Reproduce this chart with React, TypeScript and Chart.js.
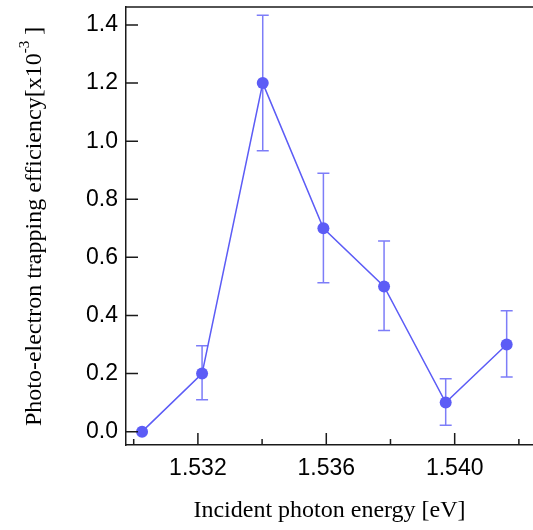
import React, { useEffect, useRef } from 'react';
import { Chart, registerables } from 'chart.js';

Chart.register(...registerables);

// ---- data ----
const energies = [1.53026, 1.53213, 1.53402, 1.53591, 1.5378, 1.53972, 1.54162];
const efficiency = [0.0, 0.2, 1.2, 0.7, 0.5, 0.1, 0.3];
const errLow: (number | null)[] = [null, 0.11, 0.967, 0.513, 0.348, 0.022, 0.188];
const errHigh: (number | null)[] = [null, 0.296, 1.434, 0.89, 0.656, 0.182, 0.416];
const xMajorTicks = [1.532, 1.536, 1.54];
const xMinorTicks = [1.53, 1.534, 1.538, 1.542];
const yTicks = [0, 0.2, 0.4, 0.6, 0.8, 1.0, 1.2, 1.4];
const xTitle = 'Incident photon energy [eV]';
const yTitleMain = 'Photo-electron trapping efficiency[x10';
const yTitleSup = '-3';
const yTitleEnd = ' ]';

const X_MIN = 1.52976;
const X_MAX = 1.54244;
const Y_MIN = -0.046;
const Y_MAX = 1.462;

const LINE_COLOR = '#5c5cf6';
const ERR_COLOR = 'rgba(92,92,246,0.8)';
const AXIS_COLOR = '#1a1a1a';

const isMajor = (v: number) => xMajorTicks.some((m) => Math.abs(m - v) < 1e-9);

const errorBarPlugin = {
  id: 'errorBars',
  beforeDatasetsDraw(chart: any) {
    const { ctx, scales } = chart;
    const xs = scales.x;
    const ys = scales.y;
    ctx.save();
    ctx.strokeStyle = ERR_COLOR;
    ctx.lineWidth = 1.5;
    energies.forEach((e, i) => {
      const lo = errLow[i];
      const hi = errHigh[i];
      if (lo == null || hi == null) return;
      const px = xs.getPixelForValue(e);
      const pLo = ys.getPixelForValue(lo);
      const pHi = ys.getPixelForValue(hi);
      ctx.beginPath();
      ctx.moveTo(px, pLo);
      ctx.lineTo(px, pHi);
      ctx.moveTo(px - 6, pLo);
      ctx.lineTo(px + 6, pLo);
      ctx.moveTo(px - 6, pHi);
      ctx.lineTo(px + 6, pHi);
      ctx.stroke();
    });
    ctx.restore();
  },
};

const framePlugin = {
  id: 'frame',
  afterDraw(chart: any) {
    const { ctx, chartArea, scales } = chart;
    const { left, right, top, bottom } = chartArea;
    ctx.save();
    ctx.strokeStyle = AXIS_COLOR;
    ctx.lineWidth = 1.5;
    // top border
    ctx.beginPath();
    ctx.moveTo(left, top);
    ctx.lineTo(right, top);
    ctx.stroke();
    // inward y ticks
    ctx.beginPath();
    yTicks.forEach((v) => {
      const py = scales.y.getPixelForValue(v);
      ctx.moveTo(left, py);
      ctx.lineTo(left + 12, py);
    });
    // inward x ticks
    xMajorTicks.forEach((v) => {
      const px = scales.x.getPixelForValue(v);
      ctx.moveTo(px, bottom);
      ctx.lineTo(px, bottom - 12);
    });
    xMinorTicks.forEach((v) => {
      const px = scales.x.getPixelForValue(v);
      ctx.moveTo(px, bottom);
      ctx.lineTo(px, bottom - 6);
    });
    ctx.stroke();

    // axis titles
    ctx.fillStyle = '#000';
    ctx.textBaseline = 'alphabetic';
    const mainFont = '24px "Liberation Serif", "Times New Roman", serif';
    const supFont = '15px "Liberation Serif", "Times New Roman", serif';

    // x title
    ctx.font = mainFont;
    ctx.textAlign = 'center';
    ctx.fillText(xTitle, (left + right) / 2, 517);

    // y title (rotated, with superscript)
    ctx.textAlign = 'left';
    ctx.font = mainFont;
    const w1 = ctx.measureText(yTitleMain).width;
    const w3 = ctx.measureText(yTitleEnd).width;
    ctx.font = supFont;
    const w2 = ctx.measureText(yTitleSup).width;
    const total = w1 + w2 + w3;
    ctx.translate(41, 226.5);
    ctx.rotate(-Math.PI / 2);
    let x0 = -total / 2;
    ctx.font = mainFont;
    ctx.fillText(yTitleMain, x0, 0);
    x0 += w1;
    ctx.font = supFont;
    ctx.fillText(yTitleSup, x0, -12);
    x0 += w2;
    ctx.font = mainFont;
    ctx.fillText(yTitleEnd, x0, 0);
    ctx.restore();
  },
};

export default function App() {
  const canvasRef = useRef<HTMLCanvasElement | null>(null);

  useEffect(() => {
    document.body.style.margin = '0';
    const canvas = canvasRef.current;
    if (!canvas) return;
    const tickFont = { family: '"Liberation Sans", Arial, sans-serif', size: 23 };
    const chart = new Chart(canvas, {
      type: 'scatter',
      data: {
        datasets: [
          {
            data: energies.map((x, i) => ({ x, y: efficiency[i] })),
            showLine: true,
            borderColor: LINE_COLOR,
            backgroundColor: LINE_COLOR,
            borderWidth: 1.5,
            pointRadius: 6,
            pointHoverRadius: 6,
            pointBorderWidth: 0,
            clip: false as any,
          },
        ],
      },
      options: {
        animation: false,
        responsive: true,
        maintainAspectRatio: false,
        layout: { autoPadding: false, padding: { top: 7, right: 0, bottom: 0, left: 0 } },
        plugins: {
          legend: { display: false },
          tooltip: { enabled: false },
          title: { display: false },
        },
        scales: {
          x: {
            type: 'linear',
            min: X_MIN,
            max: X_MAX,
            afterBuildTicks: (s: any) => {
              s.ticks = [...xMinorTicks, ...xMajorTicks]
                .sort((a, b) => a - b)
                .map((v) => ({ value: v }));
            },
            afterFit: (s: any) => {
              s.height = 85;
              s.paddingLeft = 0;
              s.paddingRight = 0;
            },
            ticks: {
              autoSkip: false,
              maxRotation: 0,
              minRotation: 0,
              color: '#000',
              font: tickFont,
              padding: 10,
              callback: (v: any) => (isMajor(Number(v)) ? Number(v).toFixed(3) : ''),
            },
            grid: { drawOnChartArea: false, drawTicks: false },
            border: { display: true, color: AXIS_COLOR, width: 1.5 },
          },
          y: {
            type: 'linear',
            min: Y_MIN,
            max: Y_MAX,
            afterBuildTicks: (s: any) => {
              s.ticks = yTicks.map((v) => ({ value: v }));
            },
            afterFit: (s: any) => {
              s.width = 126;
              s.paddingTop = 0;
              s.paddingBottom = 0;
            },
            ticks: {
              color: '#000',
              font: tickFont,
              padding: 8,
              callback: (v: any) => Number(v).toFixed(1),
            },
            grid: { drawOnChartArea: false, drawTicks: false },
            border: { display: true, color: AXIS_COLOR, width: 1.5 },
          },
        },
      },
      plugins: [errorBarPlugin, framePlugin],
    });
    return () => chart.destroy();
  }, []);

  return (
    <div style={{ width: 533, height: 530, position: 'relative' }}>
      <canvas ref={canvasRef} />
    </div>
  );
}
